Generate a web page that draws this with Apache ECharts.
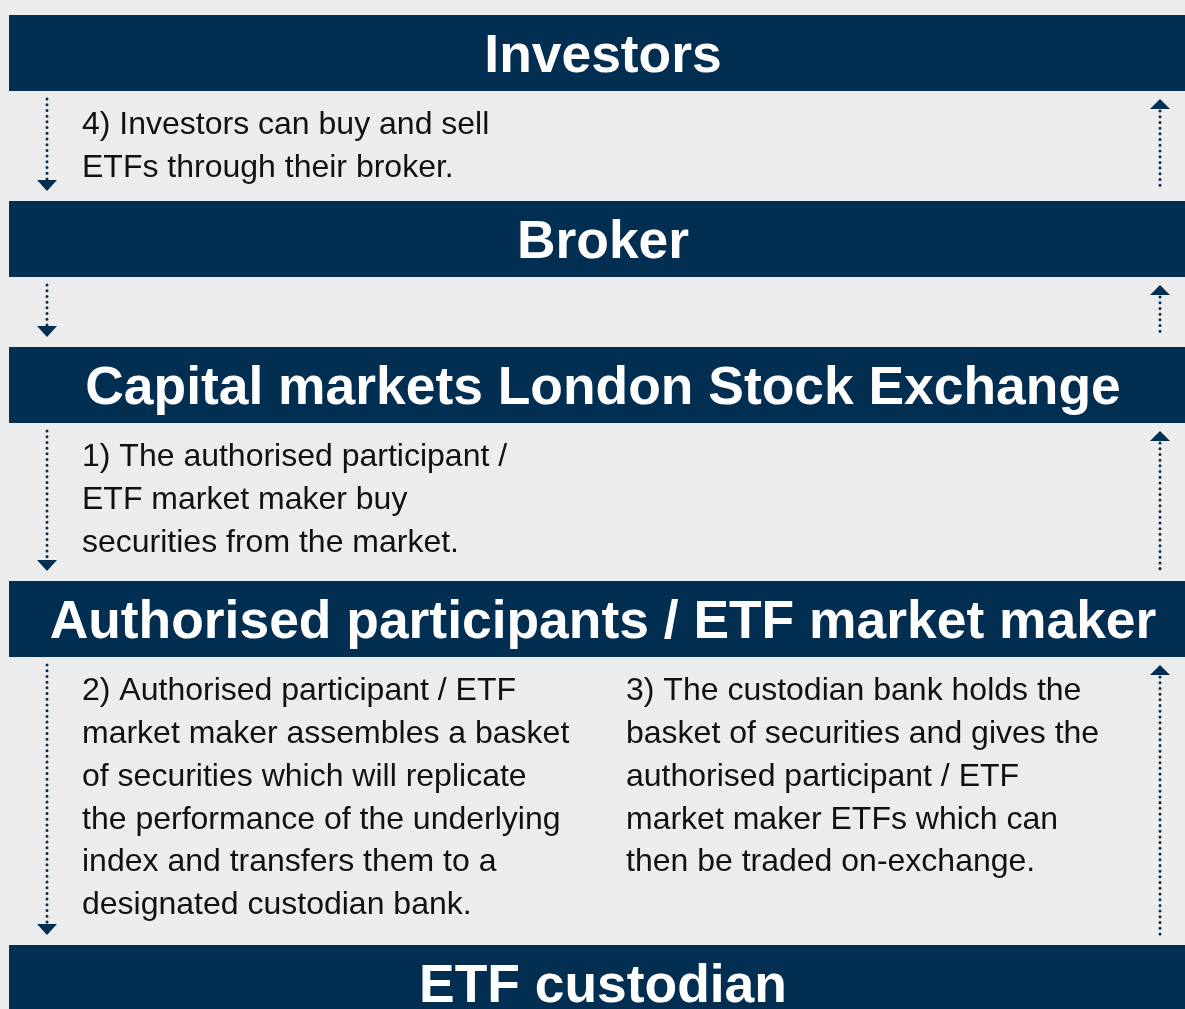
<!DOCTYPE html>
<html>
<head>
<meta charset="utf-8">
<title>ETF creation flow</title>
<script src="https://cdn.jsdelivr.net/npm/echarts@6/dist/echarts.min.js"></script>
<style>
  html, body { margin: 0; padding: 0; background: #ececec; }
  #chart { width: 1185px; height: 1009px; }
</style>
</head>
<body>
<div id="chart"></div>
<script>
// stages of the flow, top to bottom
var stages = [
    'Investors',
    'Broker',
    'Capital markets London Stock Exchange',
    'Authorised participants / ETF market maker',
    'ETF custodian'
];

// notes in the gap below each stage (left column / right column)
var leftNotes = [
    ['4) Investors can buy and sell', 'ETFs through their broker.'],
    [],
    ['1) The authorised participant /', 'ETF market maker buy', 'securities from the market.'],
    ['2) Authorised participant / ETF', 'market maker assembles a basket', 'of securities which will replicate',
     'the performance of the underlying', 'index and transfers them to a', 'designated custodian bank.']
];
var rightNotes = [
    [],
    [],
    [],
    ['3) The custodian bank holds the', 'basket of securities and gives the', 'authorised participant / ETF',
     'market maker ETFs which can', 'then be traded on-exchange.']
];

// layout
var NAVY = '#022e52';
var barTop = 15, barH = 76, barLeft = 9;
var gapH = [110, 70, 158, 288];
var lineH = 42.8;
var downX = 47, upX = 1160, leftTextX = 82, rightTextX = 626;

var chart = echarts.init(document.getElementById('chart'), null, { renderer: 'canvas' });

function dotted(x, y1, y2) {
    return {
        type: 'line',
        shape: { x1: x, y1: y1, x2: x, y2: y2 },
        style: { stroke: NAVY, lineWidth: 3, lineDash: [0.01, 5.7], lineCap: 'round' }
    };
}

function tri(x, yBase, yTip) {
    return {
        type: 'polygon',
        shape: { points: [[x - 10, yBase], [x + 10, yBase], [x, yTip]] },
        style: { fill: NAVY }
    };
}

function note(x, y, lines) {
    return {
        type: 'text',
        x: x, y: y,
        style: {
            text: lines.join('\n'),
            font: '32px "Liberation Sans", Arial, sans-serif',
            fill: '#111111',
            lineHeight: lineH,
            verticalAlign: 'top',
            align: 'left'
        }
    };
}

var elements = [];
var y = barTop;
stages.forEach(function (name, i) {
    elements.push({
        type: 'rect',
        shape: { x: barLeft, y: y, width: 1185 - barLeft + 20, height: barH },
        style: { fill: NAVY }
    });
    elements.push({
        type: 'text',
        x: 603, y: y + 42,
        style: {
            text: name,
            font: 'bold 53.4px "Liberation Sans", Arial, sans-serif',
            fill: '#ffffff',
            align: 'center',
            verticalAlign: 'middle'
        }
    });
    y += barH;
    if (i < gapH.length) {
        var top = y, bottom = y + gapH[i];
        // down arrow on the left
        elements.push(dotted(downX, top + 8, bottom - 22));
        elements.push(tri(downX, bottom - 21, bottom - 10));
        // up arrow on the right
        elements.push(tri(upX, top + 18, top + 8));
        elements.push(dotted(upX, top + 20, bottom - 11));
        if (leftNotes[i].length) elements.push(note(leftTextX, top + 13, leftNotes[i]));
        if (rightNotes[i].length) elements.push(note(rightTextX, top + 13, rightNotes[i]));
        y = bottom;
    }
});

chart.setOption({
    backgroundColor: '#ececec',
    animation: false,
    graphic: elements
});
</script>
</body>
</html>
